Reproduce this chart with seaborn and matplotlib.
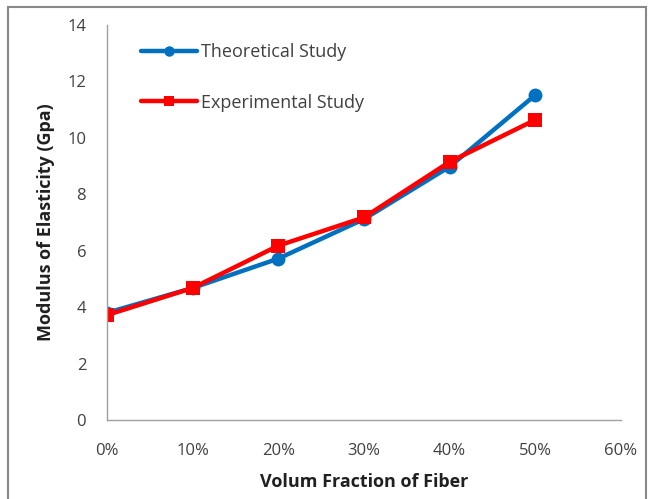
import matplotlib
matplotlib.use("Agg")
import matplotlib.pyplot as plt
import seaborn as sns
import pandas as pd
from matplotlib.patches import Rectangle
from matplotlib.ticker import FuncFormatter

fraction = [0, 10, 20, 30, 40, 50]
theoretical = [3.8, 4.68, 5.72, 7.12, 8.98, 11.52]
experimental = [3.72, 4.68, 6.18, 7.18, 9.15, 10.64]
series_names = ["Theoretical Study", "Experimental Study"]
colors = ["#0070C0", "#FF0000"]

df = pd.DataFrame({
    "x": fraction * 2,
    "y": theoretical + experimental,
    "series": [series_names[0]] * len(fraction) + [series_names[1]] * len(fraction),
})

sns.set_style("white")
plt.rcParams["font.family"] = ["Open Sans", "DejaVu Sans"]

W, H = 662, 499
fig = plt.figure(figsize=(W / 100, H / 100), dpi=100)
ax = fig.add_axes([107 / W, 1 - 420 / H, (621 - 107) / W, (420 - 25) / H])

sns.lineplot(data=df, x="x", y="y", hue="series", style="series",
             palette=colors, markers=["o", "s"], dashes=False,
             linewidth=3.2, markersize=10, markeredgewidth=0, ax=ax)

ax.set_xlim(0, 60)
ax.set_ylim(0, 14)
ax.set_xticks(range(0, 61, 10))
ax.set_yticks(range(0, 15, 2))
ax.xaxis.set_major_formatter(FuncFormatter(lambda v, p: f"{int(v)}%"))
ax.tick_params(axis="both", labelsize=12, colors="#404040", length=0)
ax.tick_params(axis="x", pad=16.5)
ax.tick_params(axis="y", pad=15)
for s in ["top", "right"]:
    ax.spines[s].set_visible(False)
for s in ["left", "bottom"]:
    ax.spines[s].set_color("#A0A0A0")
    ax.spines[s].set_linewidth(1)

ax.set_xlabel("Volum Fraction of Fiber", fontsize=13, fontweight="bold",
              color="#202020", labelpad=10)
ax.set_ylabel("Modulus of Elasticity (Gpa)", fontsize=13, fontweight="bold",
              color="#202020", labelpad=9)

leg = ax.legend(loc="upper left", bbox_to_anchor=(141 / W, 1 - 43 / H),
                bbox_transform=fig.transFigure, frameon=False, borderpad=0,
                borderaxespad=0, fontsize=13, handlelength=3.1,
                labelspacing=1.8, handletextpad=0.2, markerscale=0.75)
for t in leg.get_texts():
    t.set_color("#404040")

fig.patches.append(Rectangle((8 / W, -0.01), 638 / W, 1 - 7 / H + 0.01,
                             transform=fig.transFigure, fill=False,
                             edgecolor="#888888", linewidth=1.5))

fig.savefig("out.png", dpi=100)
